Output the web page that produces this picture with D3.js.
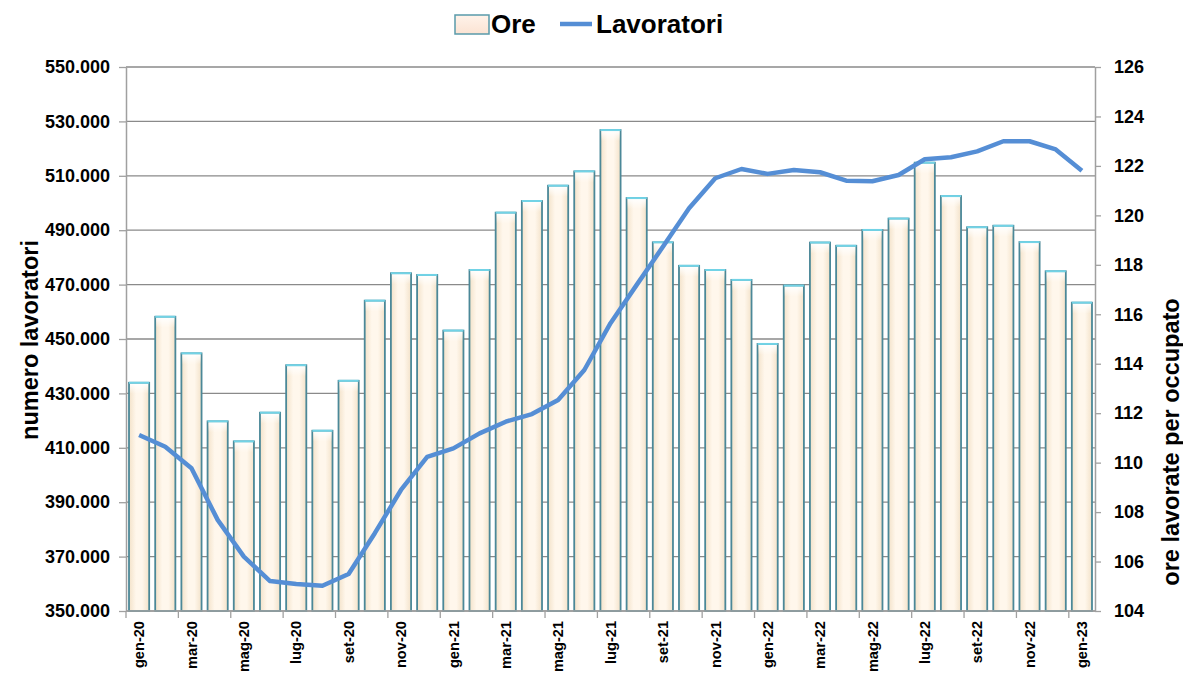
<!DOCTYPE html>
<html><head><meta charset="utf-8">
<script src="https://cdn.jsdelivr.net/npm/d3@7"></script>
<style>
body{margin:0;background:#fff}
svg{display:block}
text{font-family:"Liberation Sans",Arial,sans-serif;font-weight:bold;fill:#000}
</style>
</head><body>
<svg id="chart" width="1183" height="674"></svg>
<script>
const categories = ["gen-20","feb-20","mar-20","apr-20","mag-20","giu-20","lug-20","ago-20","set-20","ott-20","nov-20","dic-20",
  "gen-21","feb-21","mar-21","apr-21","mag-21","giu-21","lug-21","ago-21","set-21","ott-21","nov-21","dic-21",
  "gen-22","feb-22","mar-22","apr-22","mag-22","giu-22","lug-22","ago-22","set-22","ott-22","nov-22","dic-22","gen-23"];
// Ore lavorate per occupato (right axis)
const ore = [113.23,115.90,114.42,111.67,110.86,112.02,113.94,111.29,113.31,116.55,117.66,117.59,
  115.34,117.79,120.11,120.58,121.20,121.78,123.45,120.70,118.91,117.96,117.79,117.39,
  114.80,117.16,118.90,118.77,119.41,119.87,122.13,120.78,119.52,119.58,118.92,117.74,116.47];
// Numero lavoratori (left axis)
const lavoratori = [414700,410400,402500,383500,370000,361000,359900,359300,363600,378600,394500,406700,
  409800,415300,419600,422400,427600,438600,455800,469900,483900,498100,509100,512500,
  510700,512100,511300,508200,508000,510300,516100,516800,519000,522700,522700,519700,511900];
const leftTicks = [350000,370000,390000,410000,430000,450000,470000,490000,510000,530000,550000];
const rightTicks = [104,106,108,110,112,114,116,118,120,122,124,126];
const seriesNames = ["Ore","Lavoratori"];
const axisTitles = ["numero lavoratori","ore lavorate per occupato"];

const svg = d3.select("#chart");
const L = 126, R = 1095, T = 67, B = 611;
const x = d3.scaleBand().domain(categories).range([L, R]).padding(0);
const yL = d3.scaleLinear().domain([350000, 550000]).range([B, T]);
const yR = d3.scaleLinear().domain([104, 126]).range([B, T]);
const itFmt = d3.formatLocale({decimal: ",", thousands: ".", grouping: [3], currency: ["€",""]}).format(",d");

const defs = svg.append("defs");
const gH = defs.append("linearGradient").attr("id","barH").attr("x1","0").attr("x2","1").attr("y1","0").attr("y2","0");
[["0%","#f3e2c9"],["35%","#fff7ec"],["65%","#fff7ec"],["100%","#f3e2c9"]].forEach(s=>gH.append("stop").attr("offset",s[0]).attr("stop-color",s[1]));
const gV = defs.append("linearGradient").attr("id","barTop").attr("x1","0").attr("x2","0").attr("y1","0").attr("y2","1");
gV.append("stop").attr("offset","0%").attr("stop-color","#ffffff").attr("stop-opacity",0.95);
gV.append("stop").attr("offset","100%").attr("stop-color","#ffffff").attr("stop-opacity",0);
const gL = defs.append("linearGradient").attr("id","legBox").attr("x1","0").attr("x2","0").attr("y1","0").attr("y2","1");
gL.append("stop").attr("offset","0%").attr("stop-color","#fff3ea");
gL.append("stop").attr("offset","100%").attr("stop-color","#fbe3d3");

// gridlines (left axis)
svg.append("g").selectAll("line").data(leftTicks).join("line")
  .attr("x1", L).attr("x2", R).attr("y1", d => yL(d)).attr("y2", d => yL(d))
  .attr("stroke", "#8a8a8a").attr("stroke-width", 1.3);

// bars
const bw = x.step() * 0.77;
const bars = svg.append("g").selectAll("g").data(ore).join("g");
bars.append("rect")
  .attr("x", (d,i) => x(categories[i]) + (x.step()-bw)/2)
  .attr("y", d => yR(d))
  .attr("width", bw)
  .attr("height", d => B - yR(d))
  .attr("fill", "url(#barH)")
  .attr("stroke", "#4b8898").attr("stroke-width", 1.8);
bars.append("rect")
  .attr("x", (d,i) => x(categories[i]) + (x.step()-bw)/2 + 1)
  .attr("y", d => yR(d) + 1)
  .attr("width", bw - 2)
  .attr("height", 10)
  .attr("fill", "url(#barTop)");
bars.append("line")
  .attr("x1", (d,i) => x(categories[i]) + (x.step()-bw)/2)
  .attr("x2", (d,i) => x(categories[i]) + (x.step()+bw)/2)
  .attr("y1", d => yR(d)).attr("y2", d => yR(d))
  .attr("stroke", "#72d3e6").attr("stroke-width", 2);

// line
const line = d3.line()
  .x((d,i) => x(categories[i]) + x.bandwidth()/2)
  .y(d => yL(d));
svg.append("path").datum(lavoratori)
  .attr("d", line).attr("fill","none")
  .attr("stroke","#558ed5").attr("stroke-width",4.5)
  .attr("stroke-linejoin","round").attr("stroke-linecap","butt");

// left axis
const gLeft = svg.append("g").attr("transform", `translate(${L},0)`)
  .call(d3.axisLeft(yL).tickValues(leftTicks).tickFormat(itFmt).tickSize(7).tickSizeOuter(0).tickPadding(9));
// right axis
const gRight = svg.append("g").attr("transform", `translate(${R},0)`)
  .call(d3.axisRight(yR).tickValues(rightTicks).tickSize(6).tickSizeOuter(0).tickPadding(13));
[gLeft, gRight].forEach(g => {
  g.select(".domain").attr("stroke","#a0a0a0").attr("stroke-width",1.5);
  g.selectAll(".tick line").attr("stroke","#a0a0a0").attr("stroke-width",1.3);
  g.selectAll("text").attr("font-size",18).attr("font-family",'"Liberation Sans",Arial,sans-serif').attr("font-weight","bold");
});

// bottom axis
const labelled = categories.filter((d,i) => i % 2 === 0);
const gBottom = svg.append("g").attr("transform", `translate(0,${B})`);
gBottom.append("line").attr("x1", L).attr("x2", R).attr("y1", 0).attr("y2", 0)
  .attr("stroke","#a0a0a0").attr("stroke-width",1.5);
gBottom.selectAll("line.tk").data(labelled).join("line").attr("class","tk")
  .attr("x1", d => x(d)).attr("x2", d => x(d)).attr("y1", 0).attr("y2", 7)
  .attr("stroke","#a0a0a0").attr("stroke-width",1.3);
gBottom.selectAll("text").data(labelled).join("text")
  .attr("transform", d => `translate(${x(d) + x.bandwidth()/2},0) rotate(-90)`)
  .attr("x", -10).attr("dy", "0.36em")
  .attr("text-anchor","end").attr("font-size",14.6)
  .text(d => d);

// axis titles
svg.append("text").attr("transform","translate(30,340) rotate(-90)")
  .attr("text-anchor","middle").attr("dy","0.35em").attr("font-size",23.5).text(axisTitles[0]);
svg.append("text").attr("transform","translate(1171,442) rotate(-90)")
  .attr("text-anchor","middle").attr("dy","0.35em").attr("font-size",23.5).text(axisTitles[1]);

// legend
const lg = svg.append("g");
lg.append("rect").attr("x",455).attr("y",15).attr("width",34).attr("height",19)
  .attr("fill","url(#legBox)").attr("stroke","#5a9aaa").attr("stroke-width",1.5);
lg.append("text").attr("x",491).attr("y",33).attr("font-size",26).text(seriesNames[0]);
lg.append("line").attr("x1",560).attr("x2",592).attr("y1",24).attr("y2",24)
  .attr("stroke","#558ed5").attr("stroke-width",4.5);
lg.append("text").attr("x",596).attr("y",33).attr("font-size",26).text(seriesNames[1]);
</script>
</body></html>
